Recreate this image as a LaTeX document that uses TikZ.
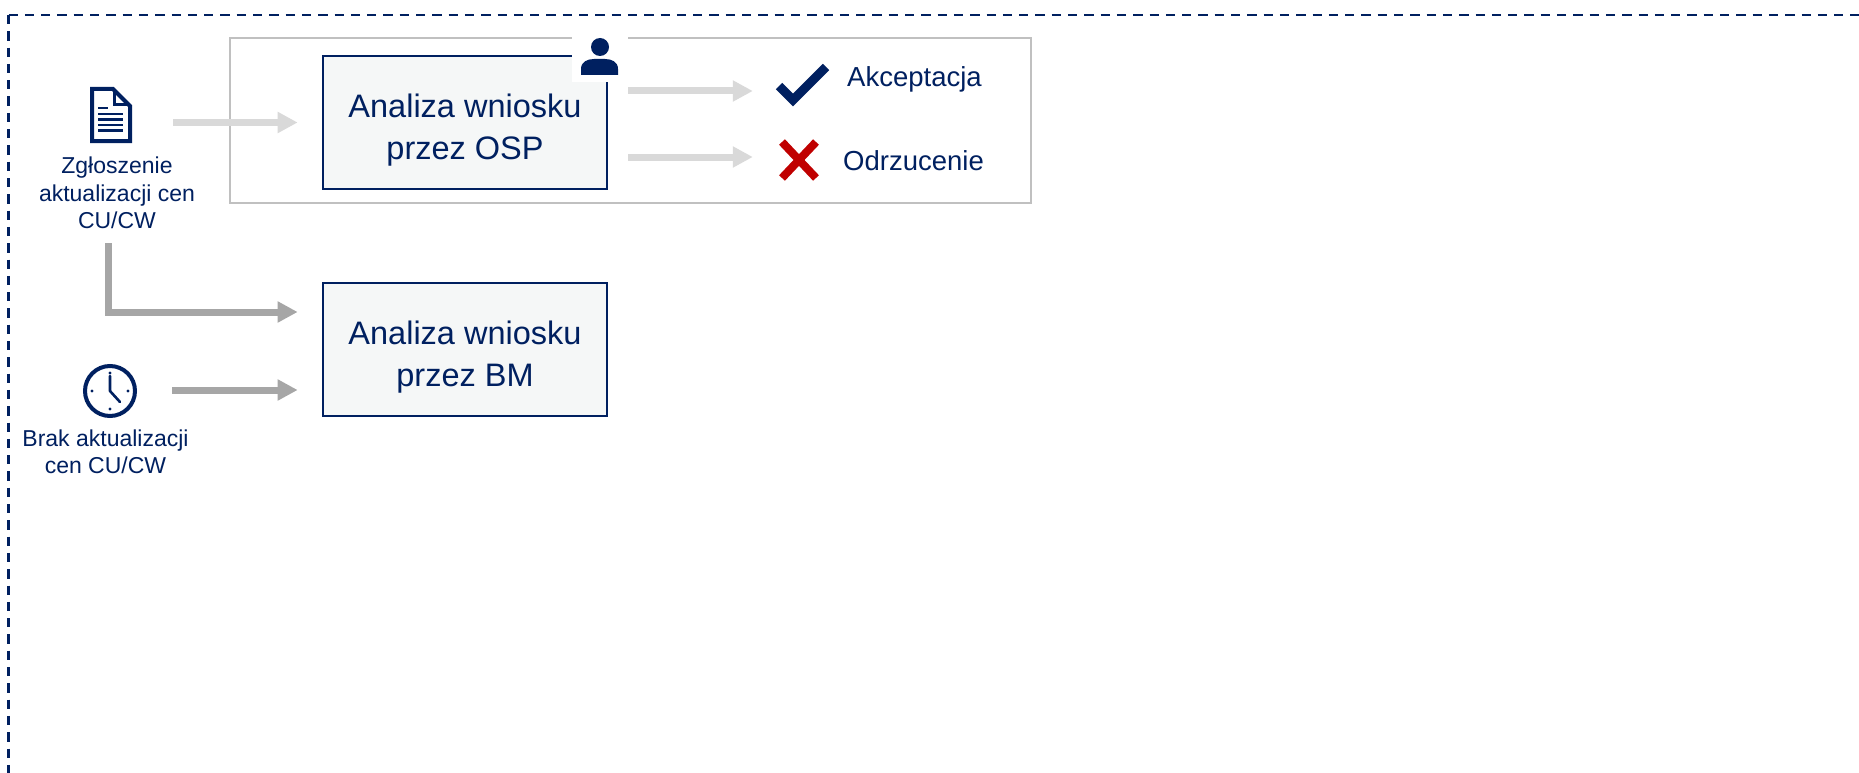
\documentclass[tikz,border=0pt]{standalone}
\usepackage{fontspec}
\setmainfont{Liberation Sans}
\usetikzlibrary{arrows.meta,calc}
\definecolor{navy}{HTML}{002060}
\definecolor{arrlight}{HTML}{D9D9D9}
\definecolor{arrdark}{HTML}{A6A6A6}
\definecolor{boxfill}{HTML}{F5F7F7}
\definecolor{groupgray}{HTML}{C0C0C0}
\definecolor{xred}{HTML}{C00000}
\begin{document}
\begin{tikzpicture}[x=1pt,y=-1pt,
  procbox/.style={draw=navy,line width=2.7pt,fill=boxfill,minimum width=284pt,minimum height=133pt,inner sep=0pt,align=center,text=navy,font=\fontsize{32.5}{42.7}\selectfont},
  groupbox/.style={draw=groupgray,line width=2.5pt,minimum width=801pt,minimum height=165pt,inner sep=0pt},
  lightarr/.style={draw=arrlight,line width=7pt,-{Triangle[length=20pt,width=20pt]}},
  darkarr/.style={draw=arrdark,line width=7pt,line join=miter,-{Triangle[length=20pt,width=20pt]}},
  smalllabel/.style={text=navy,align=center,inner sep=0pt,font=\fontsize{23}{27.5}\selectfont},
  outlabel/.style={text=navy,inner sep=0pt,font=\fontsize{27.5}{33}\selectfont},
  frameline/.style={draw=navy,line width=2.5pt,dash pattern=on 9.3pt off 7pt},
  iconline/.style={draw=navy},
]
\useasboundingbox (0,0) rectangle (1859,773);
\fill[white] (0,0) rectangle (1859,773);

% dashed frame (only top and left visible)
\draw[frameline] (8.5,15) -- (8.5,800);
\draw[frameline] (8.5,15) -- (1900,15);

% group box and process boxes
\node[groupbox] (grp) at (630.5,120.5) {};
\node[procbox] (osp) at (465,122.5) {\rule{0pt}{38.5pt}Analiza wniosku\\przez OSP};
\node[procbox] (bm) at (465,349.5) {\rule{0pt}{38.5pt}Analiza wniosku\\przez BM};

% person icon with white patch
\fill[white] (572,33) rectangle (628,82);
\fill[navy] (600,47) circle[radius=9pt];
\fill[navy] (581,75) -- (581,69) .. controls (581,62) and (587,59) .. (594,59) -- (605,59) .. controls (612,59) and (618,62) .. (618,69) -- (618,75) -- cycle;

% document icon
\draw[iconline,line width=4pt,line join=miter] (92,89) -- (113,89) -- (130,106) -- (130,141) -- (92,141) -- cycle;
\draw[iconline,line width=3pt,line join=miter] (114,89) -- (114,105) -- (130,105);
\draw[iconline,line width=2.8pt] (98,108) -- (108,108);
\foreach \yy in {114,119.5,125,130.5} \draw[iconline,line width=2.8pt] (98,\yy) -- (123,\yy);

% clock icon
\draw[iconline,line width=4pt] (110,391) circle[radius=25pt];
\foreach \p in {(110,373),(110,409),(92,391),(128,391)} \fill[navy] \p circle[radius=1.6pt];
\draw[iconline,line width=2.6pt,line cap=round,line join=round] (110,376) -- (110,391) -- (120,402);

% labels
\node[smalllabel] (zgl) at (117,193) {Zgłoszenie\\aktualizacji cen\\CU/CW};
\node[smalllabel] (brak) at (105.5,452) {Brak aktualizacji\\cen CU/CW};
\node[outlabel,anchor=base west] (acc) at (847,87) {Akceptacja};
\node[outlabel,anchor=base west] (rej) at (843,170) {Odrzucenie};

% outcome icons
\node[inner sep=0pt,minimum width=54pt,minimum height=40pt] (chk) at (802,85) {};
\node[inner sep=0pt,minimum width=40pt,minimum height=42pt] (crs) at (799,160) {};
\draw[navy,line width=9pt,line join=miter] (779,86) -- (793,100) -- (826,67);
\draw[xred,line width=8pt] (782,142) -- (816,178);
\draw[xred,line width=8pt] (816,142) -- (782,178);

% connectors
\coordinate (doc-out) at (173,122.5);
\coordinate (zgl-out) at (108,243);
\coordinate (clk-out) at (172,390);
\draw[lightarr] (doc-out) -- ([xshift=-24pt]osp.west);
\draw[darkarr] (zgl-out) |- ([xshift=-24pt,yshift=37.5pt]bm.west);
\draw[darkarr] (clk-out) -- ([xshift=-24pt,yshift=-40.5pt]bm.west);
\coordinate (acc-s) at ([xshift=20pt,yshift=31.5pt]osp.east);
\coordinate (rej-s) at ([xshift=20pt,yshift=-34.5pt]osp.east);
\coordinate (acc-e) at ([xshift=-22pt]chk.west);
\coordinate (rej-e) at ([xshift=-26pt]crs.west);
\draw[lightarr] (acc-s) -- (acc-e |- acc-s);
\draw[lightarr] (rej-s) -- (rej-e |- rej-s);
\end{tikzpicture}
\end{document}
